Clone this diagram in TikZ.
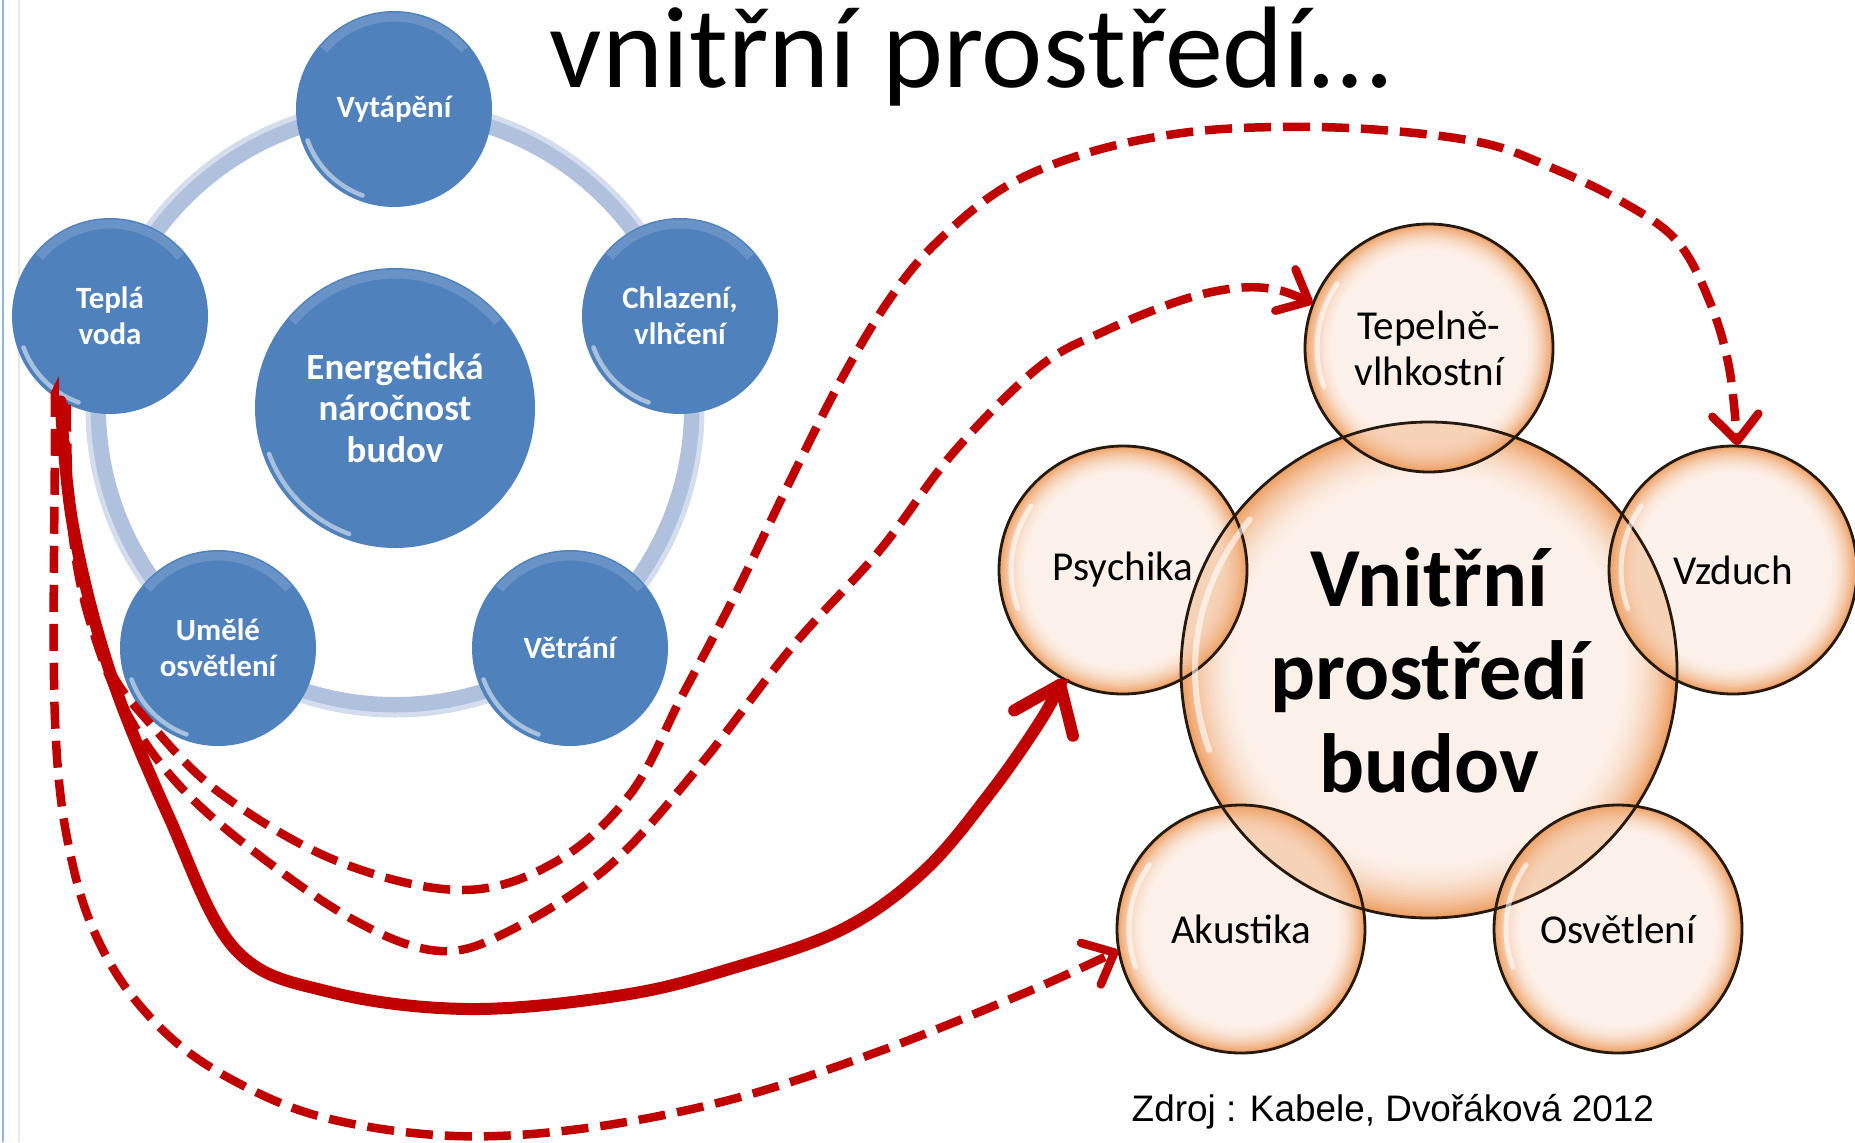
\documentclass[tikz,border=0pt]{standalone}
\usepackage{fontspec}
\setmainfont{Carlito}
\newfontfamily\srcfont{Liberation Sans}
\usetikzlibrary{arrows.meta}
\definecolor{arrred}{HTML}{C00000}
\definecolor{nodeblue}{HTML}{4F81BD}
\definecolor{ringblue}{HTML}{B0C1DE}
\definecolor{ringlight}{HTML}{D3DDEE}
\definecolor{bubin}{HTML}{FCF1EA}
\definecolor{bubout}{HTML}{EEA064}
\definecolor{edgeblue}{HTML}{8DB4E2}
\definecolor{edgegray}{HTML}{E8E8E8}
\newcommand\bubgrad[2]{%
  \foreach \i in {0,...,22} {
    \pgfmathtruncatemacro\pc{100*(1-\i/22)*(1-\i/22)}
    \pgfmathsetmacro\rr{#2*(1-0.011*\i)}
    \fill[bubout!\pc!bubin] (#1) circle[radius=\rr mm];
  }%
}
\tikzset{
  bluec/.style={circle, fill=nodeblue, minimum size=19.6mm, inner sep=0pt, text=white,
    font=\bfseries\fontsize{8.8}{10.2}\selectfont, align=center},
  bluebig/.style={bluec, minimum size=28mm, font=\bfseries\fontsize{10.5}{11.8}\selectfont},
  bub/.style={circle, minimum size=24.8mm, inner sep=0pt, text=black,
    font=\fontsize{11.7}{13.1}\selectfont, align=center},
  bubbig/.style={bub, minimum size=49.6mm, font=\bfseries\fontsize{23.9}{26.5}\selectfont},
  bubline/.style={draw=black!80!brown, line width=0.28mm},
  dasharrow/.style={arrred, line width=0.85mm, dash pattern=on 2.7mm off 1.2mm,
    -{Straight Barb[length=2.6mm, width=4.6mm, round]}},
  solidarrow/.style={arrred, line width=1.2mm, line cap=round,
    -{Straight Barb[length=4.2mm, width=6.4mm, round]}},
  hilite/.style={white, opacity=0.5, line width=0.45mm, line cap=round}
}
\begin{document}
\begin{tikzpicture}[x=0.1mm, y=0.1mm]
\useasboundingbox (0,0) rectangle (1855,-1142);
\fill[white] (0,0) rectangle (1855,-1142);
\draw[edgeblue, line width=0.25mm] (3,0) -- (3,-1142);
\draw[edgegray, line width=0.15mm] (19,0) -- (19,-1142);

% title
\node[anchor=base, font=\fontsize{33}{40}\selectfont, inner sep=0pt] (title) at (970,-88) {vnitřní prostředí…};

% left diagram
\coordinate (LC) at (395,-408);
\draw[ringblue, line width=2mm] (LC) circle[radius=29.9mm];
\draw[ringlight, line width=0.5mm] (LC) circle[radius=30.7mm];
\node[bluebig] (Ener) at (LC) {Energetická\\náročnost\\budov};
\node[bluec] (Vyt) at (394,-109) {Vytápění};
\node[bluec] (Tepla) at (110,-316) {Teplá\\voda};
\node[bluec] (Chl) at (680,-316) {Chlazení,\\vlhčení};
\node[bluec] (Umele) at (218,-648) {Umělé\\osvětlení};
\node[bluec] (Vetr) at (570,-648) {Větrání};
\foreach \n/\r in {Vyt/9.2, Tepla/9.2, Chl/9.2, Umele/9.2, Vetr/9.2, Ener/13.4} {
  \draw[hilite] ([shift={(200:\r mm)}]\n.center) arc[start angle=200, end angle=250, radius=\r mm];
  \draw[white, opacity=0.15, line width=0.9mm] ([shift={(40:\r mm)}]\n.center) arc[start angle=40, end angle=140, radius=\r mm];
}

% right diagram: gradient fills
\coordinate (cBig) at (1429,-670);
\coordinate (cTep) at (1429,-348);
\coordinate (cPsy) at (1123,-570);
\coordinate (cVzd) at (1733,-570);
\coordinate (cAku) at (1241,-929);
\coordinate (cOsv) at (1618,-929);
\bubgrad{cBig}{24.8}
\foreach \n in {cTep, cPsy, cVzd, cAku, cOsv} {
  \bubgrad{\n}{12.4}
  \begin{scope}
    \clip (\n) circle[radius=12.4mm];
    \fill[bubout, opacity=0.38] (cBig) circle[radius=24.8mm];
  \end{scope}
}
\node[bubbig] (Big) at (cBig) {Vnitřní\\prostředí\\budov};
\node[bub] (Tep) at (cTep) {Tepelně-\\vlhkostní};
\node[bub] (Psy) at (cPsy) {Psychika};
\node[bub] (Vzd) at (cVzd) {Vzduch};
\node[bub] (Aku) at (cAku) {Akustika};
\node[bub] (Osv) at (cOsv) {Osvětlení};
\draw[bubline] (Big.center) circle[radius=24.8mm];
\foreach \n in {Tep, Psy, Vzd, Aku, Osv} {
  \draw[bubline] (\n.center) circle[radius=12.4mm];
  \draw[white, opacity=0.6, line width=0.5mm, line cap=round] ([shift={(145:11.2mm)}]\n.center) arc[start angle=145, end angle=200, radius=11.2mm];
}
\draw[white, opacity=0.6, line width=0.6mm, line cap=round] ([shift={(140:23.4mm)}]Big.center) arc[start angle=140, end angle=200, radius=23.4mm];

% source
\node[anchor=base west, inner sep=0pt, font=\srcfont\fontsize{10.5}{12}\selectfont] (src) at (1131,-1121) {Zdroj : Kabele, Dvořáková 2012};

% connectors
\draw[dasharrow] plot[smooth, tension=0.6] coordinates {(Tepla.236) (55,-430) (55,-720) (73,-866) (110,-963) (169,-1036) (242,-1085) (330,-1119) (455,-1136) (587,-1128) (733,-1099) (880,-1051) (1027,-992) (Aku.190)};
\draw[dasharrow] plot[smooth, tension=0.6] coordinates {(Tepla.244) (70,-510) (84,-600) (110,-670) (147,-720) (220,-793) (337,-861) (462,-890) (557,-861) (631,-793) (682,-696) (733,-599) (792,-477) (841,-380) (889,-300) (936,-243) (1005,-187) (1087,-153) (1182,-133) (1278,-127) (1381,-130) (1483,-143) (1550,-167) (1619,-200) (1676,-240) (1709,-300) (1729,-367) (Vzd.88)};
\draw[dasharrow] plot[smooth, tension=0.6] coordinates {(Tepla.242) (72,-520) (88,-613) (120,-700) (170,-775) (242,-842) (352,-919) (440,-951) (513,-929) (609,-866) (697,-769) (792,-647) (880,-550) (953,-453) (1039,-367) (1107,-330) (1182,-300) (1237,-288) (1278,-290) (Tep.159)};
\draw[solidarrow] plot[smooth, tension=0.6] coordinates {(Tepla.240) (73,-526) (110,-672) (169,-817) (235,-949) (330,-992) (469,-1009) (623,-995) (733,-968) (843,-929) (924,-871) (990,-793) (1041,-720) (Psy.241)};
\end{tikzpicture}
\end{document}
